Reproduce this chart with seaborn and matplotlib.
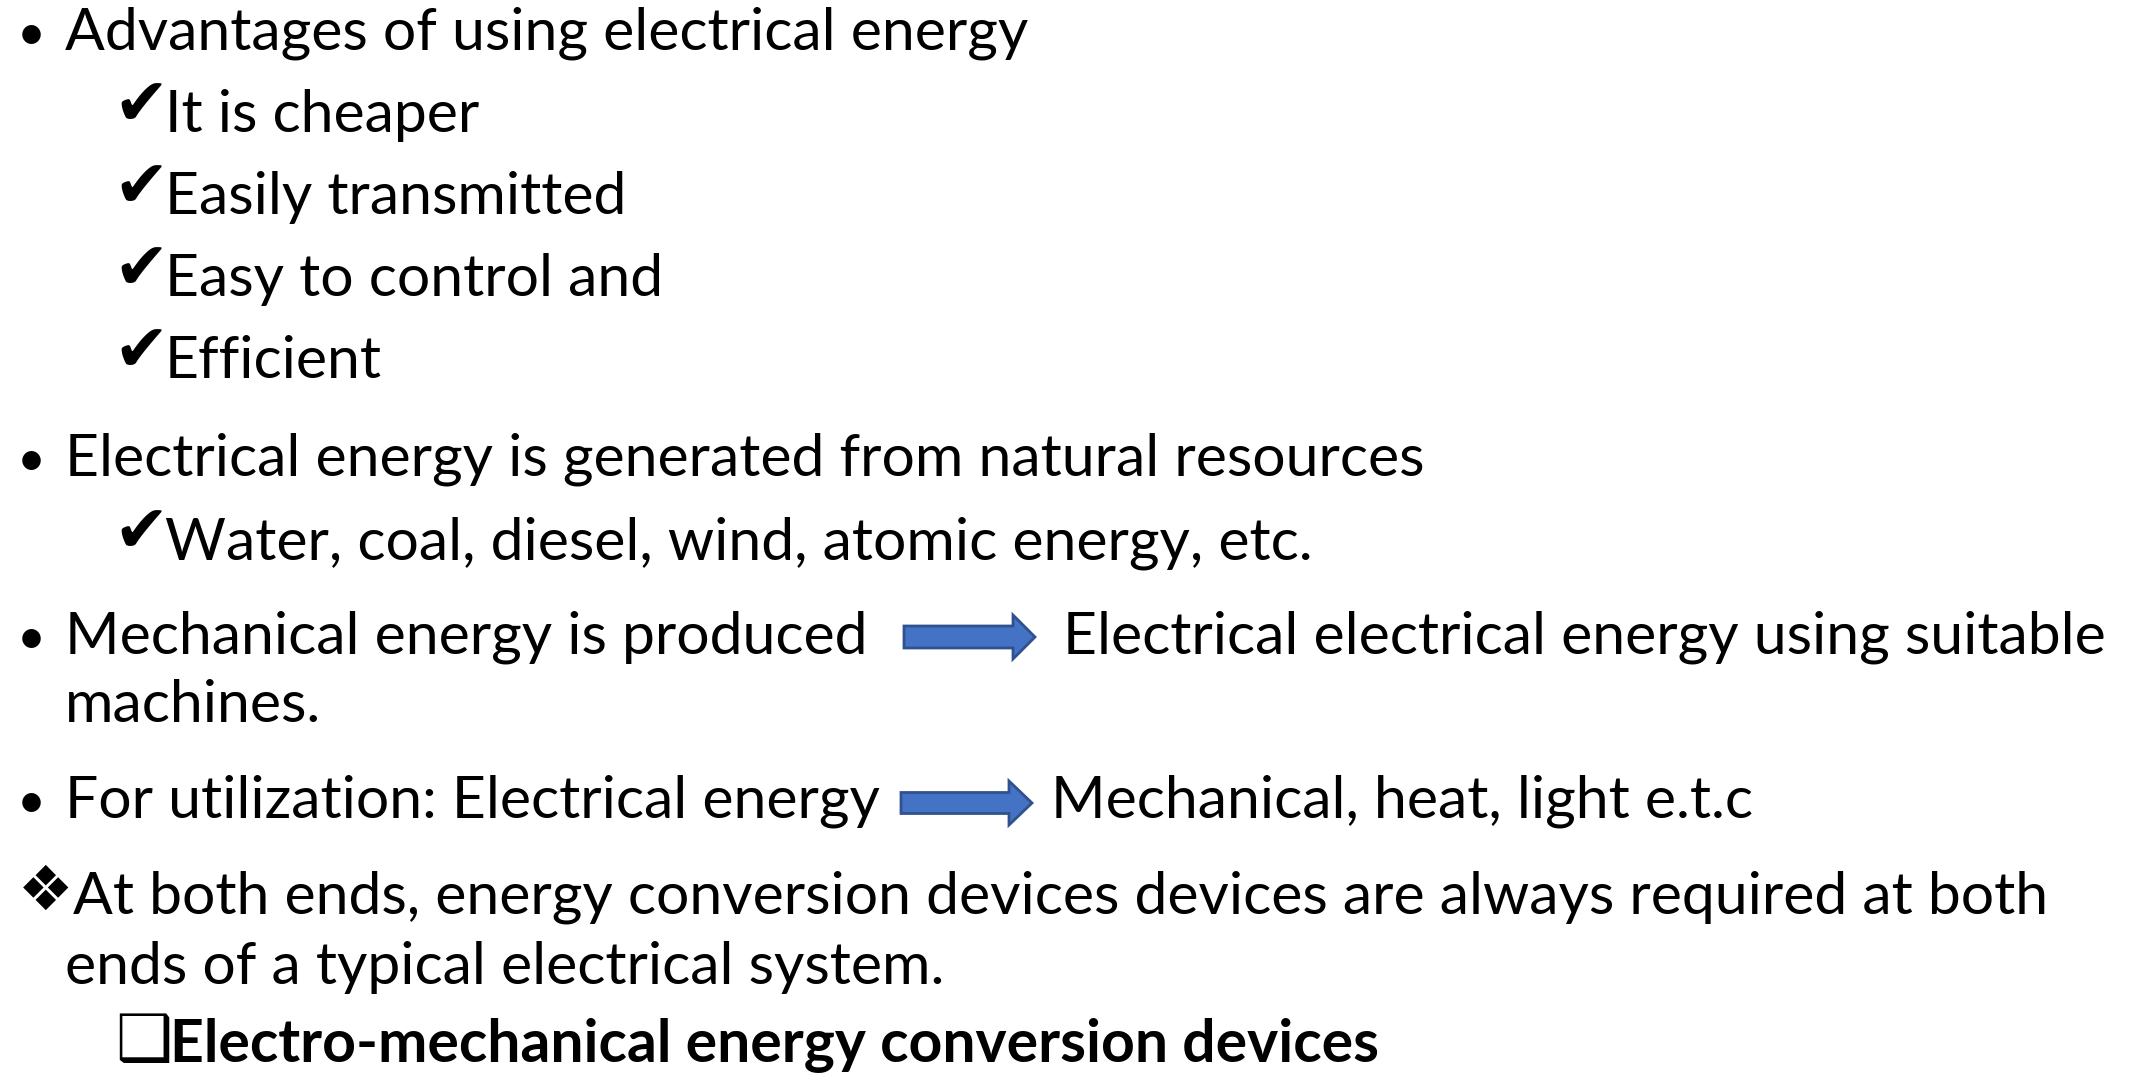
import matplotlib.pyplot as plt
from matplotlib.patches import FancyArrow
import seaborn as sns

# slide text, top to bottom
bullet_lines = [
    "Advantages of using electrical energy",
    "Electrical energy is generated from natural resources",
    "Mechanical energy is produced",
    "For utilization: Electrical energy",
]
advantages = ["It is cheaper", "Easily transmitted", "Easy to control and", "Efficient"]
resources = ["Water, coal, diesel, wind, atomic energy, etc."]
arrow_results = ["Electrical electrical energy using suitable", "Mechanical, heat, light e.t.c"]
wrapped_lines = ["machines.", "ends of a typical electrical system."]
note_line = "At both ends, energy conversion devices devices are always required at both"
heading = "Electro-mechanical energy conversion devices"

FS = 42.4
FAMILY = ["Lato", "DejaVu Sans"]
ARROW_FILL = "#4472C4"
ARROW_EDGE = "#2F528F"


def put(ax, x, y, s, size=FS, weight="normal"):
    ax.text(x, y, s, fontsize=size, fontweight=weight, family=FAMILY,
            va="baseline", ha="left", color="black")


def block_arrow(ax, x0, yc, length, shaft, head, head_len):
    ax.add_patch(FancyArrow(x0, yc, length, 0, width=shaft, head_width=head,
                            head_length=head_len, length_includes_head=True,
                            facecolor=ARROW_FILL, edgecolor=ARROW_EDGE, linewidth=2))


def main():
    sns.set_theme(style="white")
    plt.rcParams["font.family"] = FAMILY

    fig = plt.figure(figsize=(21.31, 10.75), dpi=100)
    ax = fig.add_axes([0, 0, 1, 1])
    ax.set_xlim(0, 2131)
    ax.set_ylim(1075, 0)
    ax.axis("off")

    # level-1 bullets
    bullet_y = [50, 476, 654, 818]
    for y, s in zip(bullet_y, bullet_lines):
        put(ax, 17, y, "\u2022", size=FS * 0.85)
        put(ax, 65, y, s)

    # check-marked sub items
    check_y = [132, 214, 296, 378, 559]
    for y, s in zip(check_y, advantages + resources):
        put(ax, 113, y - 7, "\u2714", size=FS * 1.12)
        put(ax, 165, y, s)

    # conversion arrows and what they lead to
    block_arrow(ax, 904, 637, 131, 22, 44, 22)
    put(ax, 1063, 654, arrow_results[0])
    block_arrow(ax, 901, 803, 131, 21, 44, 23)
    put(ax, 1051, 818, arrow_results[1])

    put(ax, 65, 722, wrapped_lines[0])

    # diamond note
    put(ax, 18, 910, "\u2756", size=FS * 1.05)
    put(ax, 73, 914, note_line)
    put(ax, 65, 984, wrapped_lines[1])

    # boxed bold heading
    put(ax, 115, 1060, "\u2751", size=FS * 1.08)
    put(ax, 170, 1062, heading, weight="bold")

    fig.savefig("out.png", dpi=100, facecolor="white")


if __name__ == "__main__":
    main()
